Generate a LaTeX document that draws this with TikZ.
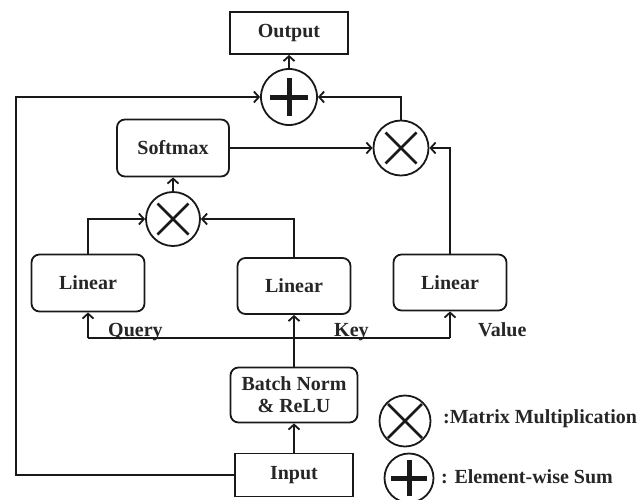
\documentclass[tikz,border=0pt]{standalone}
\usepackage{fontspec}
\setmainfont{Liberation Serif}
\usetikzlibrary{arrows.meta}
\tikzset{
  ln/.style={line width=1.8pt, draw=black!90},
  arr/.style={ln, -{Straight Barb[length=5pt,width=11pt]}},
  lbl/.style={font=\bfseries\fontsize{20}{22}\selectfont, text=black!85, inner sep=0pt},
  sbox/.style={ln, rectangle, inner sep=0pt, lbl},
  rbox/.style={ln, rectangle, rounded corners=8pt, inner sep=0pt, lbl, align=center},
  op/.style={ln, circle, inner sep=0pt},
  timesop/.style={op, path picture={\draw[line width=2.8pt,black!90]
     ([shift={(-#1,-#1)}]path picture bounding box.center) -- ([shift={(#1,#1)}]path picture bounding box.center)
     ([shift={(-#1,#1)}]path picture bounding box.center) -- ([shift={(#1,-#1)}]path picture bounding box.center);}},
  timesop/.default=15.5pt,
  plusop/.style={op, path picture={\draw[line width=5pt,black!90]
     ([shift={(-#1,0pt)}]path picture bounding box.center) -- ([shift={(#1,0pt)}]path picture bounding box.center)
     ([shift={(0pt,-#1)}]path picture bounding box.center) -- ([shift={(0pt,#1)}]path picture bounding box.center);}},
  plusop/.default=19pt
}
\begin{document}
\begin{tikzpicture}[x=1pt,y=-1pt]
\useasboundingbox (0,0) rectangle (644,499);
% nodes
\node[sbox, minimum width=118pt, minimum height=42pt] (out) at (289,33) {Output};
\node[plusop, minimum size=56pt] (plus) at (289,97) {};
\node[timesop, minimum size=55pt] (m2) at (401,148) {};
\node[rbox, minimum width=112pt, minimum height=57pt] (soft) at (173,148) {Softmax};
\node[timesop, minimum size=54pt] (m1) at (173,219) {};
\node[rbox, minimum width=113pt, minimum height=57pt] (lin1) at (88,283) {Linear};
\node[rbox, minimum width=113pt, minimum height=56pt] (lin2) at (294,286) {Linear};
\node[rbox, minimum width=113pt, minimum height=56pt] (lin3) at (450,282.5) {Linear};
\node[rbox, minimum width=127pt, minimum height=55pt] (bn) at (294,395) {Batch Norm\\\& ReLU};
\node[sbox, minimum width=118pt, minimum height=43pt] (inp) at (294,475) {Input};
\node[timesop=17pt, minimum size=51pt] (lm) at (405,421) {};
\node[plusop=18pt, minimum size=49pt] (lp) at (409,478) {};
% labels
\node[lbl, anchor=base west] (q) at (108,336) {Query};
\node[lbl, anchor=base west] (k) at (334,336) {Key};
\node[lbl, anchor=base west] (v) at (478,336) {Value};
\node[lbl, anchor=base west] (lmt) at (443,423) {:Matrix Multiplication};
\node[lbl, anchor=base west] (lpt) at (441,483) {: Element-wise Sum};
% coordinates
\coordinate (lt) at (16,97);
\coordinate (jl) at (88,338);
\coordinate (jr) at (450,338);
% connectors
\draw[arr] (plus) -- (out);
\draw[arr] (inp.west) -| (lt) -- (plus.west);
\draw[arr] (m2.north) |- (plus.east);
\draw[arr] (soft.east) -- (m2.west);
\draw[arr] (lin3.north) |- (m2.east);
\draw[arr] (m1) -- (soft);
\draw[arr] (lin1.north) |- (m1.west);
\draw[arr] (lin2.north) |- (m1.east);
\draw[arr] (inp) -- (bn);
\draw[arr] (bn) -- (lin2);
\draw[ln] (jl) -- (jr);
\draw[arr] (jl) -- (lin1);
\draw[arr] (jr) -- (lin3);
\end{tikzpicture}
\end{document}
